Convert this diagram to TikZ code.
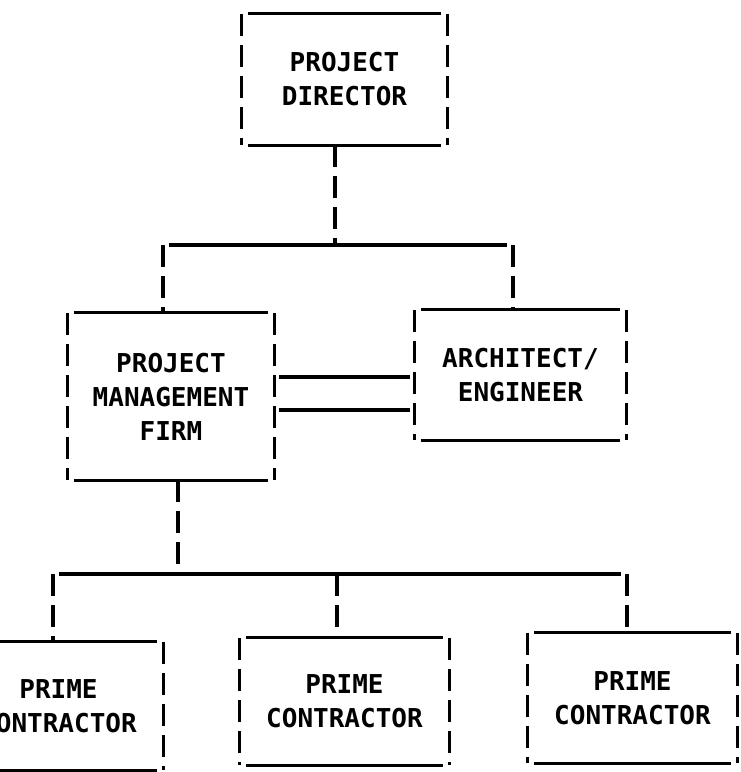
\documentclass[tikz,border=0pt]{standalone}
\usepackage{fontspec}
\newfontfamily\printerfont{DejaVu Sans Mono}

\begin{document}
\begin{tikzpicture}[x=1pt, y=-1pt,
  orgbox/.style={font={\printerfont\bfseries\fontsize{26}{34}\selectfont},
    align=center, inner sep=0pt},
  hline/.style={line width=3.3pt, shorten <=6pt, shorten >=6pt},
  vline/.style={line width=3.3pt, dash pattern=on 22pt off 9pt}]
\useasboundingbox (0,0) rectangle (740,772);
\clip (0,0) rectangle (740,772);
% Boxes
\node[orgbox, minimum width=205pt, minimum height=131pt] (pd)  at (344.5,79.5) {PROJECT\\DIRECTOR};
\node[orgbox, minimum width=206pt, minimum height=167pt] (pmf) at (171,396.5) {PROJECT\\MANAGEMENT\\FIRM};
\node[orgbox, minimum width=211pt, minimum height=130pt] (ae)  at (520.5,375) {ARCHITECT/\\ENGINEER};
\node[orgbox, minimum width=209pt, minimum height=128pt] (pc1) at (58.5,706) {PRIME\\CONTRACTOR};
\node[orgbox, minimum width=209pt, minimum height=127pt] (pc2) at (344.5,701.5) {PRIME\\CONTRACTOR};
\node[orgbox, minimum width=209pt, minimum height=130pt] (pc3) at (632.5,698) {PRIME\\CONTRACTOR};
% Box frames: solid top and bottom, dashed sides
\foreach \b in {pd,pmf,ae,pc1,pc2,pc3} {
  \draw[hline] (\b.north west) -- (\b.north east);
  \draw[hline] (\b.south west) -- (\b.south east);
  \draw[vline] (\b.north west) -- (\b.south west);
  \draw[vline] (\b.north east) -- (\b.south east);
}
% Upper bus
\coordinate (busA) at (335,245);
\coordinate (busL) at (163,245);
\coordinate (busR) at (513,245);
\draw[vline] (busA |- pd.south) -- (busA);
\draw[hline] (busL) -- (busR);
\draw[vline] (busL) -- (busL |- pmf.north);
\draw[vline] (busR) -- (busR |- ae.north);
% Double line between firm and architect
\draw[hline, shorten <=5pt, shorten >=5pt] (pmf.east |- 0,377) -- (ae.west |- 0,377);
\draw[hline, shorten <=5pt, shorten >=5pt] (pmf.east |- 0,410) -- (ae.west |- 0,410);
% Lower bus
\coordinate (busB) at (178,574);
\coordinate (bus1) at (53,574);
\coordinate (bus2) at (337,574);
\coordinate (bus3) at (627,574);
\draw[vline] (busB |- pmf.south) -- (busB);
\draw[hline] (bus1) -- (bus3);
\foreach \c/\b in {bus1/pc1, bus2/pc2, bus3/pc3}
  \draw[vline] (\c) -- (\c |- \b.north);
\end{tikzpicture}
\end{document}
